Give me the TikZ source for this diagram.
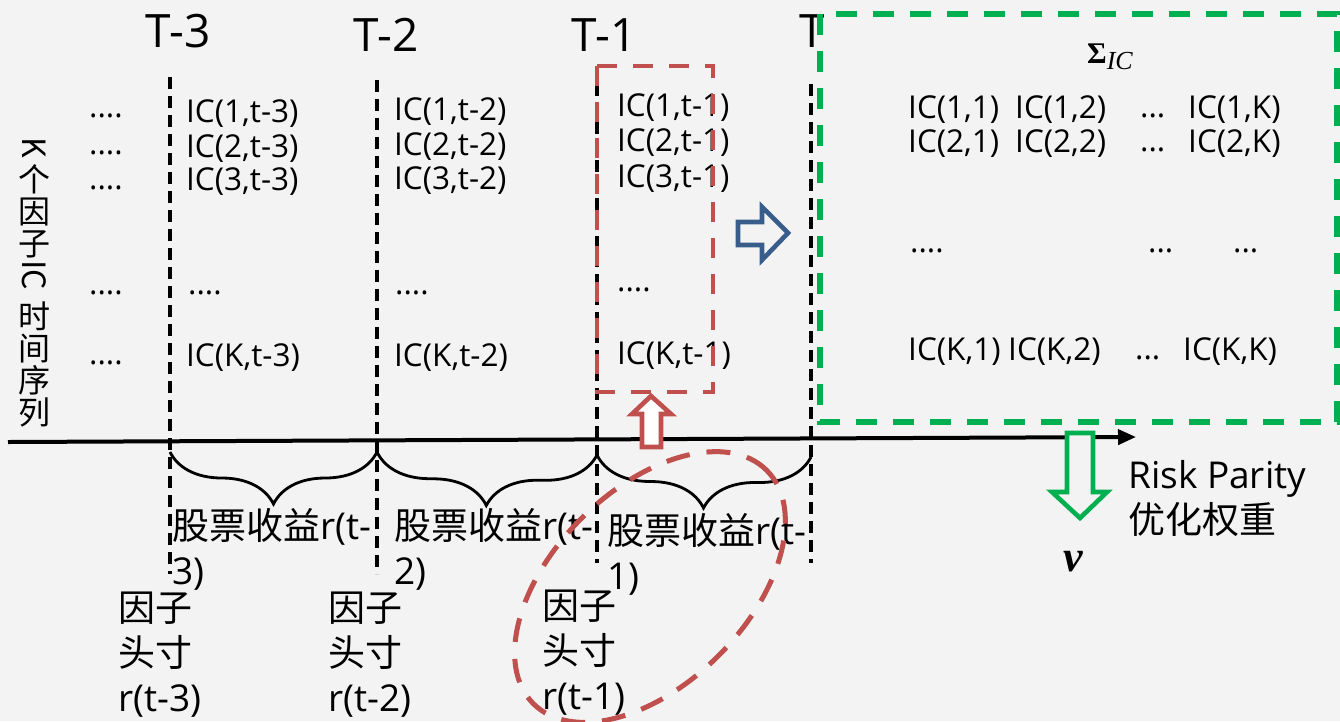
\documentclass[tikz,border=0pt]{standalone}
\usepackage{fontspec}
\setmainfont{Open Sans}
\newfontfamily\cjk{Noto Sans CJK SC}
\newfontfamily\serif{Liberation Serif}
\usepackage{graphicx}
\usetikzlibrary{arrows.meta,decorations.pathreplacing}
\definecolor{bg}{HTML}{F3F3F3}
\definecolor{myred}{HTML}{C0504D}
\definecolor{mygreen}{HTML}{00B050}
\definecolor{myblue}{HTML}{385D8A}
\tikzset{
  tline/.style={black, line width=3.4pt, dash pattern=on 12pt off 7pt},
  ic/.style={anchor=west, inner sep=0pt, font=\fontsize{31.5}{36}\selectfont},
  tlab/.style={inner sep=0pt, font=\fontsize{46}{50}\selectfont},
  big/.style={inner sep=0pt, align=left, font=\fontsize{37}{45}\selectfont},
  brc/.style={decorate, decoration={brace, mirror, amplitude=52pt}, line width=2.8pt},
  hollow/.style={line width=4.6pt, line join=miter, fill=bg},
}
\begin{document}
\begin{tikzpicture}[x=1pt,y=-1pt]
\fill[bg] (0,0) rectangle (1340,721);
\useasboundingbox (0,0) rectangle (1340,721);

% time lines
\coordinate (t3a) at (170,77);  \coordinate (t3b) at (170,574);
\coordinate (t2a) at (377,80);  \coordinate (t2b) at (377,574);
\coordinate (t1a) at (597,84);  \coordinate (t1b) at (597,563);
\coordinate (t0a) at (811,84);  \coordinate (t0b) at (811,563);
\draw[tline] (t3a) -- (t3b);
\draw[tline] (t2a) -- (t2b);
\draw[tline] (t1a) -- (t1b);
\draw[tline] (t0a) -- (t0b);

% time labels
\node[tlab] (T3) at (178,31) {T-3};
\node[tlab] (T2) at (386,35) {T-2};
\node[tlab] (T1) at (604,35) {T-1};
\node[tlab] (T0) at (812,31) {T};

% axis
\coordinate (ax0) at (8,442);
\coordinate (ax1) at (1136,437);
\draw[line width=4pt, -{Triangle[length=18pt,width=15pt]}] (ax0) -- (ax1);

% braces
\coordinate (b0) at (170,452);
\coordinate (b1) at (377,452);
\coordinate (b2) at (597,455);
\coordinate (b3) at (811,457);
\draw[brc] (b0) -- (b1);
\draw[brc] (b1) -- (b2);
\draw[brc] (b2) -- (b3);

% side label
\node[inner sep=0pt, align=center, font=\cjk\fontsize{32}{32}\selectfont] (side) at (34,282)
  {\rotatebox[origin=c]{-90}{K}\\个\\因\\子\\\rotatebox[origin=c]{-90}{IC}\\[9pt]时\\间\\序\\列};

% left dots
\node[ic] (d1) at (89,116) {....};
\node[ic] (d2) at (89,153) {....};
\node[ic] (d3) at (89,188) {....};
\node[ic] (d4) at (89,293) {....};
\node[ic] (d5) at (89,363) {....};

% column t-3
\node[ic] (a1) at (186,114) {IC(1,t-3)};
\node[ic] (a2) at (186,149) {IC(2,t-3)};
\node[ic] (a3) at (186,182) {IC(3,t-3)};
\node[ic] (a4) at (188,293) {....};
\node[ic] (a5) at (186,358) {IC(K,t-3)};
% column t-2
\node[ic] (b1n) at (394,112) {IC(1,t-2)};
\node[ic] (b2n) at (394,147) {IC(2,t-2)};
\node[ic] (b3n) at (394,181) {IC(3,t-2)};
\node[ic] (b4n) at (395,293) {....};
\node[ic] (b5n) at (394,358) {IC(K,t-2)};
% column t-1
\node[ic] (c1) at (617,108) {IC(1,t-1)};
\node[ic] (c2) at (617,143) {IC(2,t-1)};
\node[ic] (c3) at (617,179) {IC(3,t-1)};
\node[ic] (c4) at (617,290) {....};
\node[ic] (c5) at (617,356) {IC(K,t-1)};

% brace labels
\node[big, anchor=north west] (r3) at (172,508) {{\cjk 股票收益}r(t-\\3)};
\node[big, anchor=north west] (r2) at (394,508) {{\cjk 股票收益}r(t-\\2)};
\node[big, anchor=north west] (r1) at (607,513) {{\cjk 股票收益}r(t-\\1)};

% position labels
\node[big, anchor=north west] (p3) at (118,592) {{\cjk 因子}\\{\cjk 头寸}\\r(t-3)};
\node[big, anchor=north west] (p2) at (328,592) {{\cjk 因子}\\{\cjk 头寸}\\r(t-2)};
\node[big, anchor=north west] (p1) at (542,590) {{\cjk 因子}\\{\cjk 头寸}\\r(t-1)};

% red dashed rectangle
\draw[myred, line width=4.8pt, dash pattern=on 20pt off 16pt] (597,66) rectangle (713,392);

% red hollow up arrow
\draw[myred, hollow, fill=white] (642,447) -- (642,414) -- (632,414) -- (651,396) -- (671,414) -- (661,414) -- (661,447) -- cycle;

% blue hollow right arrow
\draw[myblue, hollow] (738,222) -- (762,222) -- (762,207) -- (788,233) -- (762,260) -- (762,245) -- (738,245) -- cycle;

% green dashed rectangle
\draw[mygreen, line width=5.2pt, dash pattern=on 21pt off 16pt] (820,14) rectangle (1337,422);

% matrix
\node[inner sep=0pt] (sig) at (1110,57) {{\serif\bfseries\fontsize{30}{32}\selectfont Σ}\raisebox{-6pt}{\serif\itshape\fontsize{26}{28}\selectfont IC}};
\node[ic] (m11) at (908,110) {IC(1,1)};
\node[ic] (m12) at (1015,110) {IC(1,2)};
\node[ic] (m1d) at (1140,116) {...};
\node[ic] (m1k) at (1188,110) {IC(1,K)};
\node[ic] (m21) at (908,144) {IC(2,1)};
\node[ic] (m22) at (1015,144) {IC(2,2)};
\node[ic] (m2d) at (1140,150) {...};
\node[ic] (m2k) at (1188,144) {IC(2,K)};
\node[ic] (md1) at (910,251) {....};
\node[ic] (md2) at (1148,251) {...};
\node[ic] (md3) at (1233,251) {...};
\node[ic] (mk1) at (908,352) {IC(K,1)};
\node[ic] (mk2) at (1008,352) {IC(K,2)};
\node[ic] (mkd) at (1135,358) {...};
\node[ic] (mkk) at (1183,352) {IC(K,K)};

% green hollow down arrow
\draw[mygreen, hollow] (1067,433) -- (1093,433) -- (1093,492) -- (1107,492) -- (1080,518) -- (1052,492) -- (1067,492) -- cycle;

\node[big, anchor=north west] (rp) at (1128,460) {Risk Parity\\{\cjk 优化权重}};
\node[inner sep=0pt, font=\serif\bfseries\itshape\fontsize{44}{46}\selectfont] (v) at (1073,562) {v};

% red dashed ellipse
\draw[myred, line width=5pt, dash pattern=on 24pt off 17pt, rotate around={45:(650,587)}] (650,587) ellipse [x radius=165pt, y radius=97pt];
\end{tikzpicture}
\end{document}
